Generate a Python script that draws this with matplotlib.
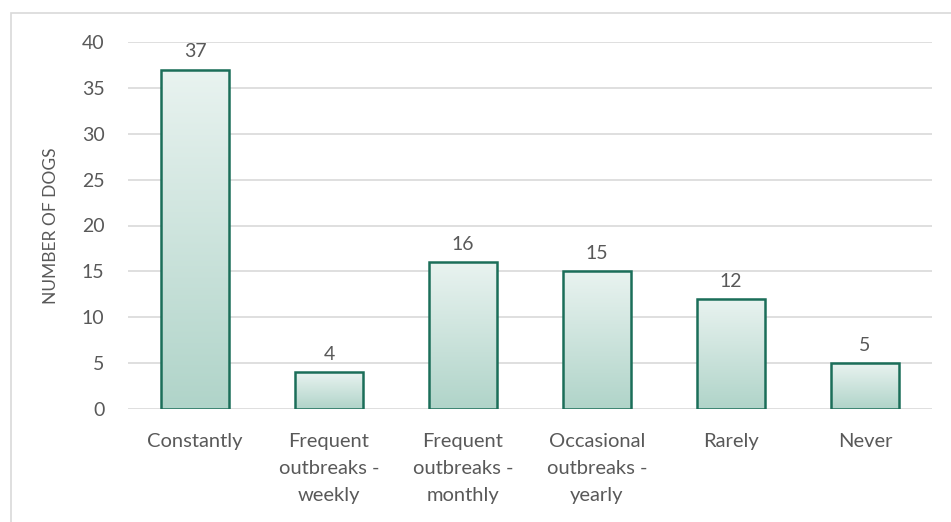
import matplotlib.pyplot as plt
import numpy as np
from matplotlib.patches import Rectangle
from matplotlib.colors import LinearSegmentedColormap

categories = ["Constantly", "Frequent\noutbreaks -\nweekly", "Frequent\noutbreaks -\nmonthly",
              "Occasional\noutbreaks -\nyearly", "Rarely", "Never"]
counts = [37, 4, 16, 15, 12, 5]
yticks = [0, 5, 10, 15, 20, 25, 30, 35, 40]

plt.rcParams['font.family'] = ['Lato', 'DejaVu Sans']
text_color = '#595959'

W, H = 951, 522
fig = plt.figure(figsize=(W / 100, H / 100), dpi=100)
ax = fig.add_axes([128 / W, (H - 409) / H, (932 - 128) / W, (409 - 42) / H])

# outer chart border
fig.patches.append(Rectangle((11 / W, -0.05), 1.0, (H - 13) / H + 0.05, transform=fig.transFigure,
                             fill=False, edgecolor='#d9d9d9', linewidth=1.2))

cmap = LinearSegmentedColormap.from_list('g', ['#b0d4c9', '#e9f3f0'])
grad = np.linspace(0, 1, 256).reshape(-1, 1)

x = np.arange(len(categories))
width = 0.51
bars = ax.bar(x, counts, width=width, facecolor='none', edgecolor='#1b6e59', linewidth=1.8, zorder=3)
for b, v in zip(bars, counts):
    x0 = b.get_x()
    ax.imshow(grad, cmap=cmap, origin='lower', aspect='auto',
              extent=[x0, x0 + width, 0, v], zorder=2, interpolation='bilinear')
    ax.text(b.get_x() + width / 2, v + 1.0, str(v), ha='center', va='bottom',
            fontsize=14, color=text_color)

ax.set_xlim(-0.5, len(categories) - 0.5)
ax.set_ylim(0, 40)
ax.set_yticks(yticks)
ax.set_xticks(x)
ax.set_xticklabels(categories, fontsize=14.5, color=text_color, linespacing=1.72)
ax.tick_params(axis='y', labelsize=14, labelcolor=text_color, length=0, pad=17)
ax.tick_params(axis='x', length=0, pad=17)
ax.grid(axis='y', color='#d9d9d9', linewidth=1.2, zorder=0)
ax.set_axisbelow(True)
for s in ax.spines.values():
    s.set_visible(False)
ax.set_ylabel('NUMBER OF DOGS', fontsize=12.5, color=text_color, labelpad=16)

fig.savefig('out.png', dpi=100)
